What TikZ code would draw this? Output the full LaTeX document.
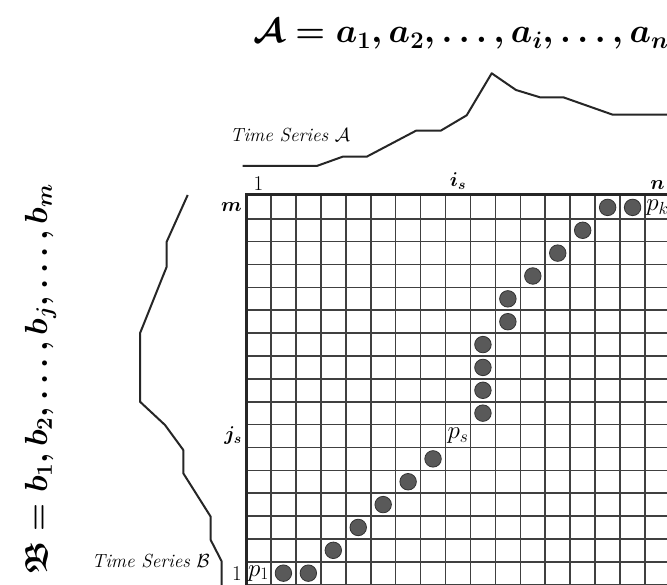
\RequirePackage{fix-cm}
\documentclass[tikz,border=0pt]{standalone}
\usepackage{amsmath,amssymb}
\usepackage{tikz}
\usetikzlibrary{positioning}

\begin{document}
\begin{tikzpicture}[
    x=1pt, y=-1pt,
    gridline/.style={draw=black!75, line width=1.6pt},
    border/.style={draw=black!85, line width=3pt},
    series/.style={draw=black!85, line width=2pt, line join=round},
    dot/.style={circle, fill=black!65, draw=black!80, line width=0.8pt, minimum size=16.5pt, inner sep=0pt},
    idx/.style={font=\fontsize{20}{20}\selectfont\boldmath, inner sep=1pt},
    num/.style={font=\fontsize{21}{21}\selectfont, inner sep=1pt},
    plabel/.style={font=\fontsize{25}{25}\selectfont, inner sep=0pt},
    caption/.style={font=\fontsize{19}{19}\selectfont\itshape, inner sep=0pt},
    title/.style={font=\fontsize{34}{36}\selectfont\boldmath, inner sep=0pt}
]
    \useasboundingbox (0,0) rectangle (667,585);
    \fill[white] (0,0) rectangle (667,585);
    \clip (0,0) rectangle (667,585);

    % Sequence titles
    \node[title, anchor=base west] (titleA) at (253,43) {$\mathcal{A} = a_1, a_2,\ldots, a_i,\ldots, a_n$};
    \node[title, rotate=90, anchor=base west, font=\fontsize{32}{34}\selectfont\boldmath] (titleB) at (47,575) {$\mathfrak{B} = b_1, b_2,\ldots, b_j,\ldots, b_m$};

    % Time series curves
    \node[caption, anchor=base west] (labelA) at (230,141.7) {Time Series $\mathcal{A}$};
    \draw[series] (242.7,166) -- (316.7,166) -- (342.7,156.7) -- (366.7,156.7) -- (416,130.7) -- (440.7,130.7)
        -- (466.7,115.3) -- (491.7,73.3) -- (516,90) -- (540,97.3) -- (563.3,97.3) -- (612.7,114.7) -- (670,114.7);
    \node[caption, anchor=base east] (labelB) at (210,567) {Time Series $\mathcal{B}$};
    \draw[series] (187.7,195) -- (166.7,241.7) -- (166.7,266.7) -- (140,333.3) -- (140,401.7) -- (165,425)
        -- (183.3,450) -- (183.3,473.3) -- (210.7,516.7) -- (210.7,540) -- (221.5,561) -- (221.5,590);

    % Cost matrix grid
    \begin{scope}[shift={(246,584.6)}, x=24.94pt, y=22.86pt]
        \foreach \c in {1,...,17} \draw[gridline] (\c,-0.2) -- (\c,17);
        \foreach \r in {0,...,16} \draw[gridline] (0,\r) -- (17.2,\r);
        \draw[border] (0,-0.2) -- (0,17.05) -- (17.2,17.05);

        % Axis indices
        \node[num, above=4pt] (colone) at (0.5,17) {1};
        \node[idx, above=5pt] (colis) at (8.5,17) {$i_s$};
        \node[idx, above=5pt] (coln) at (16.5,17) {$n$};
        \node[idx, left=3pt] (rowm) at (0,16.5) {$m$};
        \node[idx, left=3pt] (rowjs) at (0,6.5) {$j_s$};
        \node[num, left=3pt] (rowone) at (0,0.5) {1};

        % Warping path
        \foreach \c/\r [count=\k] in {2/1,3/1,4/2,5/3,6/4,7/5,8/6,10/8,10/9,10/10,10/11,11/12,11/13,12/14,13/15,14/16,15/17,16/17}
            \node[dot] (d\k) at (\c-0.5,\r-0.5) {};
        \node[plabel] (pone) at (0.5,0.5) {$p_1$};
        \node[plabel] (ps) at (8.5,6.5) {$p_s$};
        \node[plabel] (pk) at (16.5,16.5) {$p_k$};
    \end{scope}
\end{tikzpicture}
\end{document}
